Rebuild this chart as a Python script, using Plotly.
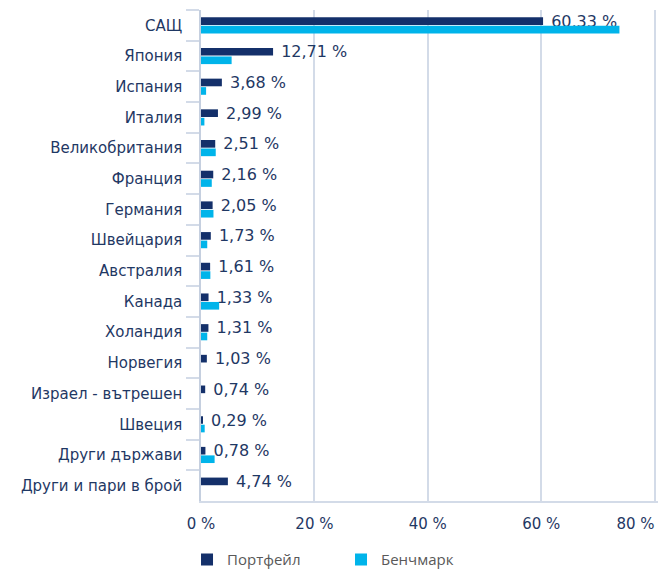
import plotly.graph_objects as go

categories = ["САЩ", "Япония", "Испания", "Италия", "Великобритания", "Франция",
              "Германия", "Швейцария", "Австралия", "Канада", "Холандия", "Норвегия",
              "Израел - вътрешен", "Швеция", "Други държави", "Други и пари в брой"]
portfolio = [60.33, 12.71, 3.68, 2.99, 2.51, 2.16, 2.05, 1.73, 1.61, 1.33, 1.31, 1.03,
             0.74, 0.29, 0.78, 4.74]
benchmark = [73.8, 5.4, 0.9, 0.6, 2.6, 1.9, 2.2, 1.1, 1.65, 3.2, 1.1, 0.0,
             0.0, 0.65, 2.4, 0.0]
x_ticks = [0, 20, 40, 60, 80]
x_tick_labels = ["0 %", "20 %", "40 %", "60 %", "80 %"]

NAVY = "#14306A"
CYAN = "#00B4EA"
GRID = "#D3DBE8"
TEXT = "#1F3864"
X_RANGE = [0, 80.6]

labels = [" " + f"{v:.2f}".replace(".", ",") + " %" for v in portfolio]

fig = go.Figure()
fig.add_trace(go.Bar(
    y=categories, x=portfolio, orientation="h", name="Портфейл",
    marker=dict(color=NAVY, line=dict(width=0)),
    text=labels, textposition="outside", cliponaxis=False, constraintext="none",
    textfont=dict(family="DejaVu Sans", size=16, color=TEXT),
    hoverinfo="skip",
))
fig.add_trace(go.Bar(
    y=categories, x=benchmark, orientation="h", name="Бенчмарк",
    marker=dict(color=CYAN, line=dict(width=0)),
    hoverinfo="skip",
))
# empty helper trace so the overlay axis (last tick label, right-aligned) is drawn
fig.add_trace(go.Scatter(x=[], y=[], xaxis="x2", yaxis="y", showlegend=False,
                         hoverinfo="skip"))

tickfont = dict(family="DejaVu Sans", size=15, color=TEXT)

fig.update_layout(
    width=668, height=570,
    margin=dict(l=201, r=10, t=10, b=69, autoexpand=False),
    paper_bgcolor="white", plot_bgcolor="white",
    barmode="group", bargap=0.446, bargroupgap=0.1,
    font=dict(family="DejaVu Sans", size=15, color=TEXT),
    showlegend=True,
    legend=dict(
        orientation="h", xref="container", yref="container",
        x=0.5105, xanchor="center", y=0.047, yanchor="top",
        font=dict(family="Open Sans", size=15, color="#595959"),
        traceorder="normal", entrywidth=109,
    ),
    xaxis=dict(
        range=X_RANGE, tickvals=x_ticks,
        ticktext=x_tick_labels[:-1] + [""],
        showgrid=True, gridcolor=GRID, gridwidth=1.5,
        showline=True, linecolor=GRID, linewidth=1.5,
        zeroline=False, ticks="", ticklabelstandoff=8, automargin=False,
        tickfont=tickfont,
    ),
    xaxis2=dict(
        overlaying="x", anchor="y", side="bottom", range=X_RANGE,
        tickvals=x_ticks[-1:], ticktext=x_tick_labels[-1:],
        ticklabelposition="outside left",
        showgrid=False, showline=False, zeroline=False, ticks="",
        ticklabelstandoff=12, automargin=False, tickfont=tickfont,
    ),
    yaxis=dict(
        categoryorder="array", categoryarray=categories, autorange="reversed",
        showline=True, linecolor="#C5CFDF", linewidth=1.5,
        ticks="outside", tickson="boundaries", ticklen=13, tickcolor=GRID, tickwidth=1.5,
        showgrid=False, zeroline=False, ticklabelstandoff=14, automargin=False,
        tickfont=tickfont,
    ),
)

fig.write_html("out.html", config={"displayModeBar": False},
               post_script="document.body.style.margin='0px';")
